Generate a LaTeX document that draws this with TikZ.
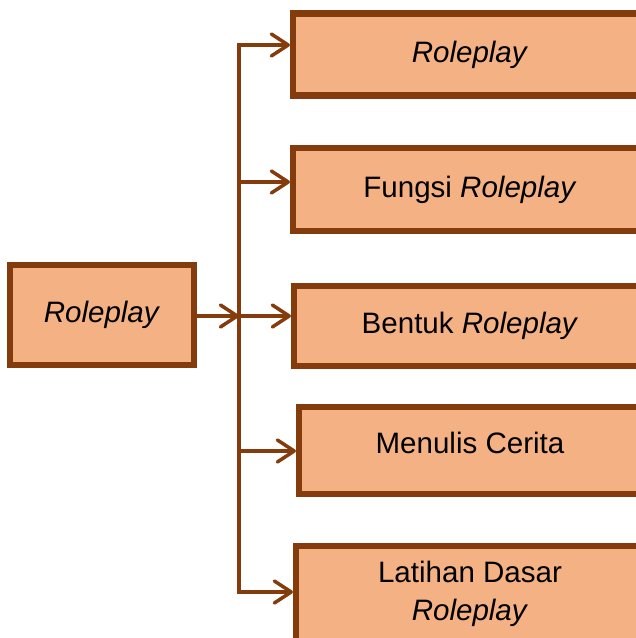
\documentclass[tikz,border=0pt]{standalone}
\usepackage{fontspec}
\setmainfont{Liberation Sans}
\usetikzlibrary{arrows.meta}
\definecolor{boxfill}{HTML}{F4B183}
\definecolor{boxline}{HTML}{843C0C}
\begin{document}
\begin{tikzpicture}[
    x=0.025cm, y=-0.025cm,
    block/.style={rectangle, draw=boxline, fill=boxfill, line width=4.3pt, align=center, font=\fontsize{21}{27}\selectfont},
    arrow/.style={-{Straight Barb[length=0.42cm, width=0.55cm, round]}, draw=boxline, line width=2.5pt},
    trunk/.style={draw=boxline, line width=2.5pt, line cap=rect}
]
\useasboundingbox (0,0) rectangle (636,638);
\clip (0,0) rectangle (636,638);

% Main topic
\node[block, minimum width=4.6cm, minimum height=2.5cm] (root) at (102,315) {\textit{Roleplay}};

% Sub topics
\node[block, minimum width=8.85cm, minimum height=2.05cm] (b1) at (470,54.5) {\textit{Roleplay}};
\node[block, minimum width=8.85cm, minimum height=2.075cm] (b2) at (470,189.5) {Fungsi \textit{Roleplay}};
\node[block, minimum width=8.8cm, minimum height=2.0cm] (b3) at (470,326) {Bentuk \textit{Roleplay}};
\node[block, minimum width=8.55cm, minimum height=2.175cm, text depth=0.4cm] (b4) at (470,450.5) {Menulis Cerita};
\node[block, minimum width=8.7cm, minimum height=2.4cm] (b5) at (470,594) {Latihan Dasar\\\textit{Roleplay}};

% Branch points on the trunk
\coordinate (tm) at (239,316);
\coordinate (t1) at (239,45);
\coordinate (t2) at (239,182);
\coordinate (t3) at (239,316);
\coordinate (t4) at (239,451);
\coordinate (t5) at (239,592);

% Arrows
\draw[trunk] (t1) -- (t5);
\draw[arrow] (root.east |- tm) -- (tm);
\foreach \i in {1,...,5}
  \draw[arrow] (t\i) -- (t\i -| b\i.west);

\end{tikzpicture}
\end{document}
